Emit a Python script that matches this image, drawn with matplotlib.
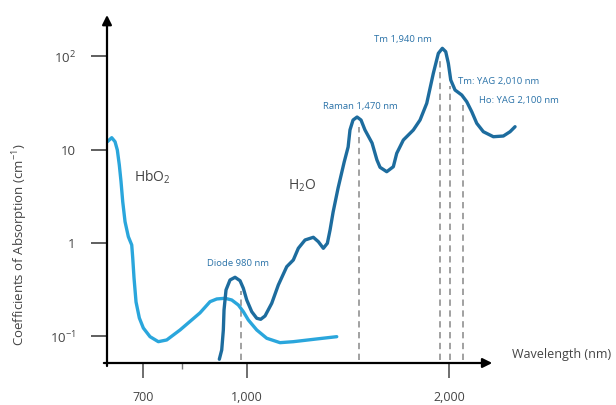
import matplotlib.pyplot as plt
import numpy as np
from matplotlib.ticker import FixedLocator, NullFormatter, NullLocator

# fuentes
plt.rcParams['font.family'] = ['Open Sans', 'DejaVu Sans']
plt.rcParams['mathtext.fontset'] = 'custom'
plt.rcParams['mathtext.rm'] = 'Open Sans'
plt.rcParams['mathtext.default'] = 'regular'

# datos (nm, cm^-1)
hbo2_nm = [619.3, 628.7, 635.9, 640.9, 645.3, 649.1, 652.9, 658.1, 665.6,
           673.4, 675.7, 678.7, 683.4, 691.2, 700.7, 717.0, 737.7, 759.3,
           795, 851, 881.0, 901.5, 927.5, 949.1, 970.8, 987.6, 1004.7,
           1034.1, 1070.2, 1120.1, 1172.4, 1270.5, 1360.8]
hbo2_abs = [12.18, 13.45, 12.18, 9.93, 6.85, 4.54, 2.771, 1.692, 1.168,
            0.952, 0.6906, 0.4216, 0.2332, 0.1571, 0.1227, 0.0990, 0.0875,
            0.0913, 0.117, 0.178, 0.2349, 0.2511, 0.2555, 0.2449, 0.2165,
            0.1835, 0.1495, 0.1168, 0.0952, 0.0854, 0.0875, 0.0936, 0.0990]

h2o_nm = [909.5, 917.0, 922.1, 924.3, 930.6, 943.5, 959.9, 976.5, 987.6,
          999.2, 1016.5, 1034.1, 1048.3, 1063.9, 1088.7, 1113.6, 1146.2,
          1172.4, 1192.7, 1220.5, 1255.8, 1277.5, 1299.6, 1317.6, 1329.9,
          1344, 1367, 1396, 1415, 1424, 1439, 1459, 1479, 1499, 1536, 1562,
          1578.7, 1615.4, 1652.4, 1671.8, 1710.1, 1769.8, 1811.0, 1853.1,
          1895.5, 1928.4, 1955.0, 1977.9, 1995.7, 2012.2, 2042.1, 2089.6,
          2125.8, 2162.6, 2200.0, 2250.4, 2329.0, 2410.3, 2466.3, 2509.0]
h2o_abs = [0.0567, 0.0713, 0.1168, 0.1914, 0.3135, 0.4013, 0.4289, 0.3944,
           0.3270, 0.2449, 0.1835, 0.1559, 0.1521, 0.1651, 0.2258, 0.3547,
           0.5572, 0.6574, 0.8774, 1.0768, 1.151, 1.0326, 0.8774, 0.9926,
           1.378, 2.15, 3.88, 7.38, 10.7, 16.3, 20.8, 22.4, 20.8, 16.3, 11.8,
           7.76, 6.477, 5.810, 6.573, 9.150, 12.70, 16.26, 20.81, 31.43,
           65.91, 107.9, 122.1, 112.3, 84.34, 55.86, 43.63, 38.57, 32.69,
           25.54, 19.19, 15.59, 13.78, 14.02, 15.59, 17.64]

laser_nm = [980, 1470, 1940, 2010, 2100]

xtick_vals = [700, 1000, 2000]
xtick_labels = ['700', '1,000', '2,000']
ytick_vals = [0.1, 1, 10, 100]
ytick_labels = ['10$^{-1}$', '1', '10', '10$^{2}$']

c_hbo2 = '#2aa6dc'
c_h2o = '#1d6c9e'
c_txt = '#2a72a8'
c_grey = '#444444'

fig = plt.figure(figsize=(6.16, 4.05), dpi=100)
ax = fig.add_axes([107 / 616, 42 / 405, 413 / 616, 348 / 405])
ax.set_xscale('log')
ax.set_yscale('log')
x0, x1 = 618.6, 2552
y0, y1 = 0.0517, 278
ax.set_xlim(x0, x1)
ax.set_ylim(y0, y1)
for s in ax.spines.values():
    s.set_visible(False)

# lineas de laser
for w in laser_nm:
    top = np.exp(np.interp(np.log(w), np.log(h2o_nm), np.log(h2o_abs))) * 0.82
    ax.plot([w, w], [0.056, top], color='#9a9a9a', lw=1.3, dashes=(3.5, 2.5),
            zorder=1)

# curvas
ax.plot(hbo2_nm, hbo2_abs, color=c_hbo2, lw=2.4, solid_joinstyle='round',
        solid_capstyle='round', zorder=3)
ax.plot(h2o_nm, h2o_abs, color=c_h2o, lw=2.4, solid_joinstyle='round',
        solid_capstyle='round', zorder=4, clip_on=False)

# ejes con flecha
ax.annotate('', xy=(x0, y1), xytext=(x0, 0.048),
            arrowprops=dict(arrowstyle='-|>', color='black', lw=1.6,
                            mutation_scale=14, shrinkA=0, shrinkB=0),
            annotation_clip=False)
ax.annotate('', xy=(2320, y0), xytext=(612, y0),
            arrowprops=dict(arrowstyle='-|>', color='black', lw=1.6,
                            mutation_scale=14, shrinkA=0, shrinkB=0),
            annotation_clip=False)

# ticks
ax.set_xticks(xtick_vals, xtick_labels)
ax.xaxis.set_minor_locator(FixedLocator([800]))
ax.xaxis.set_minor_formatter(NullFormatter())
ax.set_yticks(ytick_vals, ytick_labels)
ax.yaxis.set_minor_locator(NullLocator())
ax.tick_params(axis='y', length=11.5, width=1.1, color='#333333', pad=11,
               labelsize=9.5, labelcolor=c_grey)
ax.tick_params(axis='x', which='major', length=11, width=1.2, color='#555555',
               pad=9.5, labelsize=9, labelcolor=c_grey)
ax.tick_params(axis='x', which='minor', length=4, width=1, color='#777777')

# textos
ax.text(722, 5.1, 'HbO$_2$', fontsize=10, color=c_grey, ha='center', va='center')
ax.text(1208, 4.08, 'H$_2$O', fontsize=10, color=c_grey, ha='center', va='center')
ax.text(970, 0.61, 'Diode 980 nm', fontsize=6.8, color=c_txt, ha='center', va='center')
ax.text(1474, 28.7, 'Raman 1,470 nm', fontsize=6.8, color=c_txt, ha='center', va='center')
ax.text(1709, 153, 'Tm 1,940 nm', fontsize=6.8, color=c_txt, ha='center', va='center')
ax.text(2063, 53.2, 'Tm: YAG 2,010 nm', fontsize=6.8, color=c_txt, ha='left', va='center')
ax.text(2217, 33.3, 'Ho: YAG 2,100 nm', fontsize=6.8, color=c_txt, ha='left', va='center')
ax.text(2484, 0.063, 'Wavelength (nm)', fontsize=9, color=c_grey, ha='left',
        va='center', clip_on=False)
fig.text(20 / 616, 1 - 245 / 405, 'Coefficients of Absorption (cm$^{-1}$)',
         rotation=90, fontsize=9.5, color=c_grey, ha='center', va='center')

plt.savefig('out.png', dpi=100)
